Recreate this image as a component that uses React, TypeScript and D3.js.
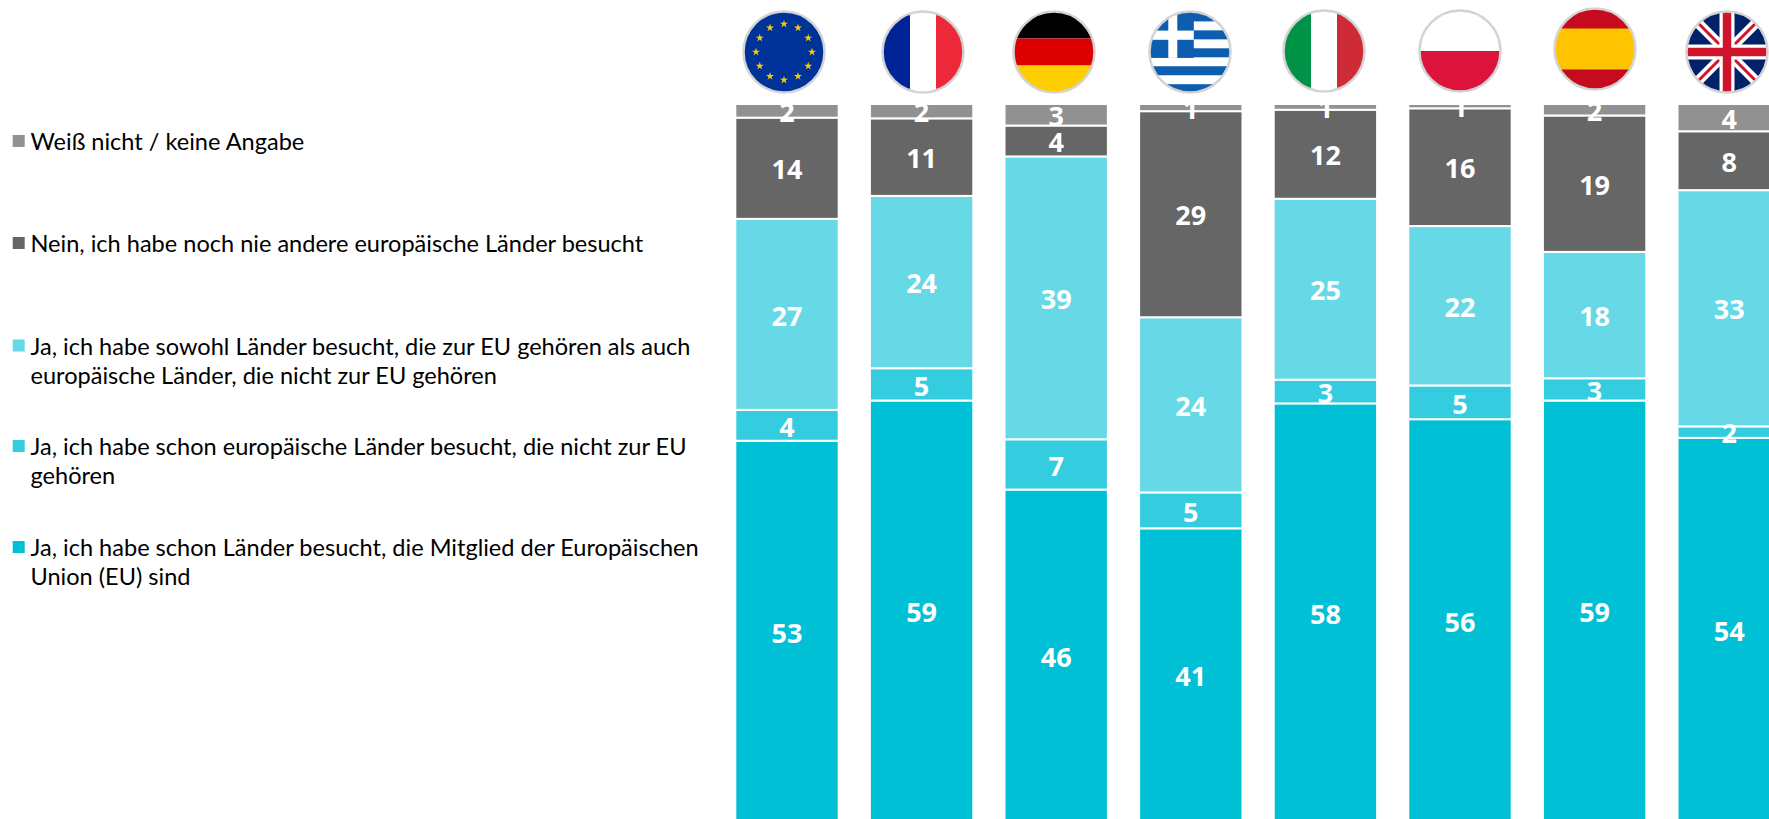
import * as d3 from 'd3';

const countries = ['EU', 'FR', 'DE', 'GR', 'IT', 'PL', 'ES', 'UK'];

// bottom-to-top order in the stack
const seriesKeys = ['memberOnly', 'nonMemberOnly', 'both', 'never', 'unknown'];

const memberOnly = [53.1, 58.7, 46.3, 40.9, 58.3, 56.1, 58.7, 53.5];
const nonMemberOnly = [4.3, 4.5, 7.0, 5.0, 3.3, 4.7, 3.1, 1.6];
const both = [26.6, 24.0, 39.4, 24.4, 25.2, 22.2, 17.6, 32.9];
const never = [14.1, 10.8, 4.3, 28.7, 12.4, 16.4, 19.0, 8.2];
const unknown = [1.9, 2.0, 3.0, 1.0, 0.8, 0.6, 1.6, 3.8];

const seriesColors = ['#00c0d6', '#33cddf', '#67d9e6', '#666666', '#919191'];

const legendLines = [
  ['Weiß nicht / keine Angabe'],
  ['Nein, ich habe noch nie andere europäische Länder besucht'],
  ['Ja, ich habe sowohl Länder besucht, die zur EU gehören als auch', 'europäische Länder, die nicht zur EU gehören'],
  ['Ja, ich habe schon europäische Länder besucht, die nicht zur EU', 'gehören'],
  ['Ja, ich habe schon Länder besucht, die Mitglied der Europäischen', 'Union (EU) sind'],
];
const legendColors = ['#919191', '#666666', '#67d9e6', '#33cddf', '#00c0d6'];
const legendTops = [142, 244, 346.5, 447, 548];

const flagCenters = [
  [784, 52], [923, 52], [1054, 52], [1190, 52], [1324, 51], [1460, 51], [1595, 49], [1727, 52],
];

const width = 1769;
const height = 819;
const rows = countries.map((c, i) => ({
  country: c,
  memberOnly: memberOnly[i],
  nonMemberOnly: nonMemberOnly[i],
  both: both[i],
  never: never[i],
  unknown: unknown[i],
}));

const x = d3.scaleBand().domain(countries).range([719.7, 1796.5]).paddingInner(0.232).paddingOuter(0.116);
const y = d3.scaleLinear().domain([100, 0]).range([104, 822]);
const stacked = d3.stack().keys(seriesKeys)(rows as any);

const starPath = d3.symbol(d3.symbolStar, 20)();

function Stripes({ flag }: { flag: string }) {
  const R = 42;
  if (flag === 'EU') {
    return (
      <g>
        <rect x={-R} y={-R} width={2 * R} height={2 * R} fill="#003399" />
        {d3.range(12).map(i => (
          <path
            key={i}
            d={starPath as string}
            fill="#ffcc00"
            transform={`translate(${28 * Math.sin((i * Math.PI) / 6)},${-28 * Math.cos((i * Math.PI) / 6)})`}
          />
        ))}
      </g>
    );
  }
  if (flag === 'FR' || flag === 'IT') {
    const c = flag === 'FR' ? ['#002395', '#ffffff', '#ed2939'] : ['#009246', '#ffffff', '#ce2b37'];
    return (
      <g>
        <rect x={-R} y={-R} width={R - 13} height={2 * R} fill={c[0]} />
        <rect x={-13} y={-R} width={26} height={2 * R} fill={c[1]} />
        <rect x={13} y={-R} width={R - 13} height={2 * R} fill={c[2]} />
      </g>
    );
  }
  if (flag === 'DE') {
    return (
      <g>
        <rect x={-R} y={-R} width={2 * R} height={R - 13.5} fill="#000000" />
        <rect x={-R} y={-13.5} width={2 * R} height={27} fill="#dd0000" />
        <rect x={-R} y={13.5} width={2 * R} height={R - 13.5} fill="#ffce00" />
      </g>
    );
  }
  if (flag === 'GR') {
    return (
      <g>
        <rect x={-R} y={-R} width={2 * R} height={2 * R} fill="#ffffff" />
        {d3.range(5).map(i => (
          <rect key={i} x={-R} y={-39.6 + i * 17.95} width={2 * R} height={9} fill="#0d5eaf" />
        ))}
        <rect x={-R} y={-R} width={R + 3.8} height={R + 5.9} fill="#0d5eaf" />
        <rect x={-21.7} y={-R} width={9} height={R + 5.9} fill="#ffffff" />
        <rect x={-R} y={-21.4} width={R + 3.8} height={9.2} fill="#ffffff" />
      </g>
    );
  }
  if (flag === 'PL') {
    return (
      <g>
        <rect x={-R} y={-R} width={2 * R} height={R} fill="#ffffff" />
        <rect x={-R} y={0} width={2 * R} height={R} fill="#dc143c" />
      </g>
    );
  }
  if (flag === 'ES') {
    return (
      <g>
        <rect x={-R} y={-R} width={2 * R} height={2 * R} fill="#c60b1e" />
        <rect x={-R} y={-20.5} width={2 * R} height={41} fill="#ffc400" />
      </g>
    );
  }
  return (
    <g>
      <rect x={-R} y={-R} width={2 * R} height={2 * R} fill="#012169" />
      <path d={`M${-R},${-R}L${R},${R}M${-R},${R}L${R},${-R}`} stroke="#ffffff" strokeWidth={10} />
      <path d={`M${-R},${-R}L${R},${R}M${-R},${R}L${R},${-R}`} stroke="#cf142b" strokeWidth={3} />
      <path d={`M0,${-R}V${R}M${-R},0H${R}`} stroke="#ffffff" strokeWidth={15} />
      <path d={`M0,${-R}V${R}M${-R},0H${R}`} stroke="#cf142b" strokeWidth={8.5} />
    </g>
  );
}

export default function App() {
  return (
    <svg
      width={width}
      height={height}
      viewBox={`0 0 ${width} ${height}`}
      style={{ position: 'fixed', left: 0, top: 0, background: '#ffffff' }}
    >
      <defs>
        <clipPath id="flag-clip">
          <circle r={40.5} />
        </clipPath>
      </defs>

      {/* legend */}
      {legendLines.map((lines, i) => (
        <g key={i} transform={`translate(0,${legendTops[i]})`}>
          <rect x={12.7} y={-7} width={12} height={12} fill={legendColors[i]} />
          {lines.map((line, j) => (
            <text
              key={j}
              x={30.5}
              y={j * 29.3 + 8}
              fontFamily="Lato, sans-serif"
              fontSize={23.55}
              fill="#000000"
            >
              {line}
            </text>
          ))}
        </g>
      ))}

      {/* flags */}
      {countries.map((c, i) => (
        <g key={c} transform={`translate(${flagCenters[i][0]},${flagCenters[i][1]})`}>
          <g clipPath="url(#flag-clip)">
            <Stripes flag={c} />
          </g>
          <circle r={40.5} fill="none" stroke="#d3d3d3" strokeWidth={2.5} />
        </g>
      ))}

      {/* stacked bars */}
      {stacked.map((layer, s) => (
        <g key={layer.key}>
          {layer.map((d: any) => (
            <rect
              key={d.data.country}
              x={x(d.data.country)}
              y={y(d[1])}
              width={x.bandwidth()}
              height={y(d[0]) - y(d[1])}
              fill={seriesColors[s]}
              stroke="#ffffff"
              strokeWidth={2}
            />
          ))}
        </g>
      ))}

      {/* value labels */}
      {stacked.map(layer => (
        <g key={layer.key}>
          {layer.map((d: any) => (
            <text
              key={d.data.country}
              x={(x(d.data.country) as number) + x.bandwidth() / 2}
              y={(y(d[0]) + y(d[1])) / 2 + 1.5}
              dy="0.36em"
              textAnchor="middle"
              fontFamily="'Open Sans', sans-serif"
              fontWeight={700}
              fontSize={27}
              fill="#ffffff"
            >
              {Math.round(d[1] - d[0])}
            </text>
          ))}
        </g>
      ))}
    </svg>
  );
}
